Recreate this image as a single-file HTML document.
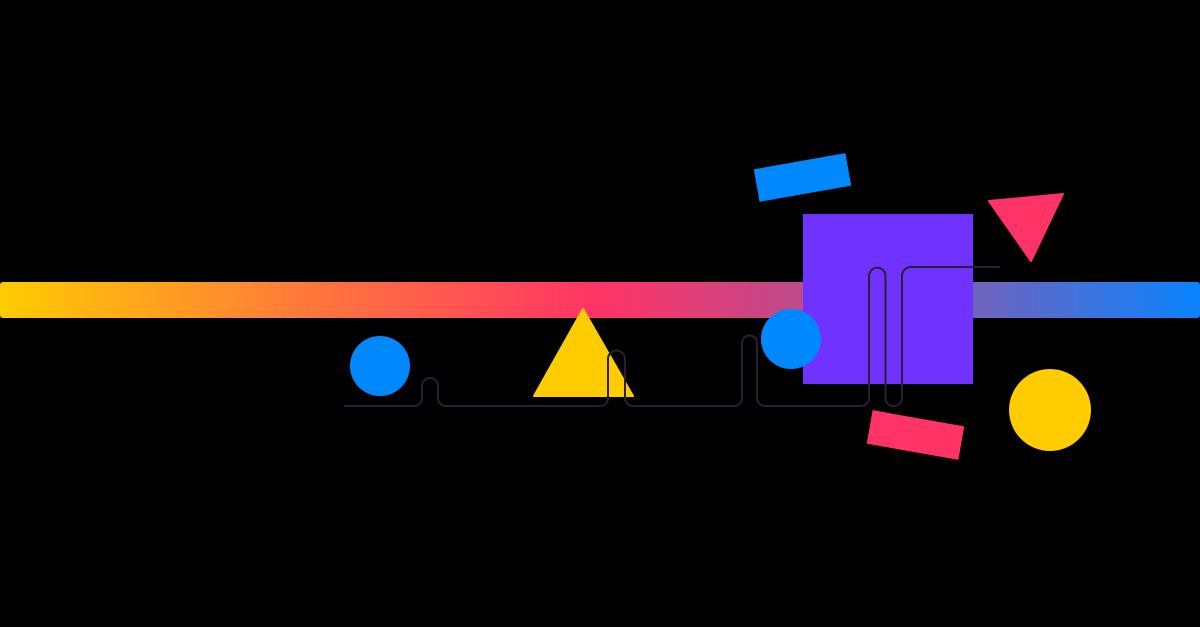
<!DOCTYPE html>
<html><head><meta charset="utf-8"><style>html,body{margin:0;padding:0;background:#000}svg{display:block}</style></head>
<body>
<svg width="1200" height="627" viewBox="0 0 1200 627" xmlns="http://www.w3.org/2000/svg">
<defs>
<linearGradient id="g" x1="0" x2="1200" y1="0" y2="0" gradientUnits="userSpaceOnUse">
<stop offset="0" stop-color="#ffcc00"/>
<stop offset="0.25" stop-color="#ff7a3a"/>
<stop offset="0.5" stop-color="#ff3366"/>
<stop offset="0.68" stop-color="#b84c8e"/>
<stop offset="1" stop-color="#0a84ff"/>
</linearGradient>
</defs>
<rect width="1200" height="627" fill="#000"/>
<rect x="0" y="282" width="1200" height="36" rx="3" fill="url(#g)"/>
<rect x="756" y="161" width="93" height="33" fill="#0088ff" transform="rotate(-10 802.5 177.5)"/>
<polygon points="989,201 1063,194 1031,261" fill="#ff3366" stroke="#ff3366" stroke-linejoin="round" stroke-width="2"/>
<rect x="803" y="214" width="170" height="170" fill="#7033ff"/>
<circle cx="380" cy="366" r="30" fill="#0088ff"/>
<polygon points="583,309 633,396 534,396" fill="#ffcc00" stroke="#ffcc00" stroke-linejoin="round" stroke-width="2"/>
<circle cx="791" cy="339" r="30" fill="#0088ff"/>
<circle cx="1050" cy="410" r="41" fill="#ffcc00"/>
<rect x="869" y="418" width="93" height="34" fill="#ff3366" transform="rotate(10 915.5 435)"/>
<path d="M344 406 H414 a8 8 0 0 0 8-8 V386 a8 8 0 0 1 16 0 V398 a8 8 0 0 0 8 8 H600 a8 8 0 0 0 8-8 V359 a8.5 8.5 0 0 1 17 0 V398 a8 8 0 0 0 8 8 H734 a8 8 0 0 0 8-8 V343 a7.5 7.5 0 0 1 15 0 V398 a8 8 0 0 0 8 8 H861 a8 8 0 0 0 8-8 V276 a8.25 8.25 0 0 1 16.5 0 V398 a8.25 8.25 0 0 0 16.5 0 V276 a9 9 0 0 1 9-9 H1000" fill="none" stroke="#2a1f33" stroke-width="2"/>
</svg>
</body></html>
